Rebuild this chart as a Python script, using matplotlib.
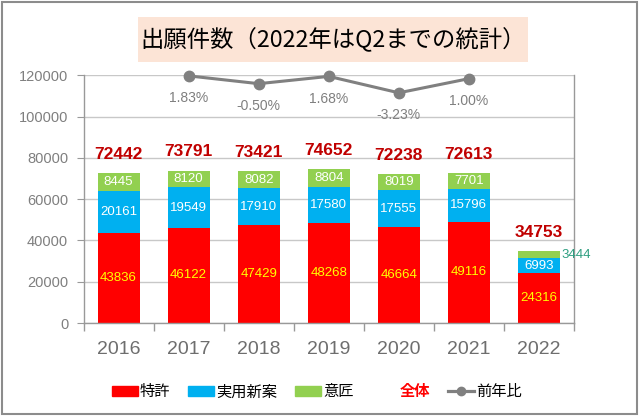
import matplotlib
matplotlib.use('Agg')
import matplotlib.pyplot as plt
from matplotlib.patches import Patch, Rectangle
from matplotlib.lines import Line2D
import numpy as np

plt.rcParams['font.family'] = ['Liberation Sans', 'Noto Sans CJK JP']

# データ
years = ['2016', '2017', '2018', '2019', '2020', '2021', '2022']
tokkyo = [43836, 46122, 47429, 48268, 46664, 49116, 24316]      # 特許
jitsuyo = [20161, 19549, 17910, 17580, 17555, 15796, 6993]      # 実用新案
isho = [8445, 8120, 8082, 8804, 8019, 7701, 3444]               # 意匠
totals = [72442, 73791, 73421, 74652, 72238, 72613, 34753]      # 全体
yoy_years = ['2017', '2018', '2019', '2020', '2021']
yoy = [1.83, -0.50, 1.68, -3.23, 1.00]                          # 前年比(%)

c_red = '#FF0000'
c_cyan = '#00B0F0'
c_green = '#92D050'
c_gray = '#808080'

fig = plt.figure(figsize=(6.41, 4.17), dpi=100)
ax = fig.add_axes([0.1303, 0.2254, 0.7652, 0.594])

x = np.arange(len(years))
w = 0.6
b1 = ax.bar(x, tokkyo, w, color=c_red, zorder=2)
b2 = ax.bar(x, jitsuyo, w, bottom=tokkyo, color=c_cyan, zorder=2)
bottom3 = np.array(tokkyo) + np.array(jitsuyo)
b3 = ax.bar(x, isho, w, bottom=bottom3, color=c_green, zorder=2)

# 各セグメントのラベル
for i in range(len(years)):
    ax.text(x[i], tokkyo[i] / 2, str(tokkyo[i]), ha='center', va='center',
            color='#FFFF00', fontsize=9.5, zorder=3)
    ax.text(x[i], tokkyo[i] + jitsuyo[i] / 2, str(jitsuyo[i]), ha='center', va='center',
            color='white', fontsize=9.5, zorder=3)
    if i == len(years) - 1:
        ax.annotate(str(isho[i]), (x[i] + w / 2, bottom3[i] + isho[i] / 2),
                    xytext=(1, 0), textcoords='offset points', ha='left', va='center',
                    color='#2E9E80', fontsize=9.5, zorder=3)
    else:
        ax.text(x[i], bottom3[i] + isho[i] / 2, str(isho[i]), ha='center', va='center',
                color='white', fontsize=9.5, zorder=3)
    ax.annotate(str(totals[i]), (x[i], totals[i]), xytext=(0, 13.5), textcoords='offset points',
                ha='center', va='center', color='#C00000', fontsize=12.5, fontweight='bold', zorder=3)

ax.set_xlim(-0.5, len(years) - 0.5)
ax.set_ylim(0, 120000)
ax.set_yticks(range(0, 120001, 20000))
ax.set_yticklabels([str(v) for v in range(0, 120001, 20000)])
ax.set_xticks(x)
ax.set_xticklabels(years)
ax.set_xticks(np.arange(-0.5, len(years)), minor=True)
ax.tick_params(axis='x', which='major', length=0, pad=13, labelsize=14, labelcolor='#6E6E6E')
ax.tick_params(axis='x', which='minor', length=6, color='#999999', width=1)
ax.tick_params(axis='y', length=5, color='#999999', labelsize=10.5, labelcolor='#7F7F7F', pad=6)
ax.grid(axis='y', color='#C8C8C8', lw=1, zorder=0)
ax.set_axisbelow(True)
ax.spines['top'].set_visible(False)
for s in ['left', 'bottom', 'right']:
    ax.spines[s].set_color('#999999')
    ax.spines[s].set_linewidth(1)

# 前年比(第2軸・非表示)
ax2 = ax.twinx()
ax2.set_ylim(-72, 2)
ax2.set_yticks([])
for s in ax2.spines.values():
    s.set_visible(False)
xi = [years.index(y) for y in yoy_years]
ax2.plot(xi, yoy, color=c_gray, lw=2.2, marker='o', markersize=7.5, clip_on=False, zorder=4)
for xx, v in zip(xi, yoy):
    ax2.annotate(f'{v:.2f}%', (xx, v), xytext=(0, -16), textcoords='offset points',
                 ha='center', va='center', color='#7F7F7F', fontsize=10)

# 凡例
handles = [Patch(color=c_red), Patch(color=c_cyan), Patch(color=c_green),
           Line2D([], [], alpha=0),
           Line2D([], [], color=c_gray, lw=2.3, marker='o', markersize=6)]
labels = ['特許', '実用新案', '意匠', '全体', '前年比']
leg = fig.legend(handles, labels, loc='center', bbox_to_anchor=(0.4945, 0.06), ncol=5,
                 frameon=False, fontsize=11, handlelength=1.7, handleheight=0.65,
                 handletextpad=0.13, columnspacing=1.18, borderpad=0,
                 prop={'family': ['Noto Sans CJK JP', 'DejaVu Sans'], 'size': 11})
for t in leg.get_texts():
    if t.get_text() == '全体':
        t.set_color(c_red)
        t.set_fontweight('bold')

# タイトル
fig.add_artist(Rectangle((138 / 641, 1 - 62 / 417), 390 / 641, 45 / 417,
                         transform=fig.transFigure, facecolor='#FCE4D6', edgecolor='none'))
fig.text(0.52, 1 - 40 / 417, '出願件数（2022年はQ2までの統計）', ha='center', va='center',
         fontsize=16.8, family=['Noto Sans CJK JP', 'DejaVu Sans'])

# 外枠
fig.add_artist(Rectangle((2 / 641, 3 / 417), 635 / 641, 412 / 417, transform=fig.transFigure,
                         facecolor='none', edgecolor='#8C8C8C', lw=1.5))

fig.savefig('out.png', dpi=100)
